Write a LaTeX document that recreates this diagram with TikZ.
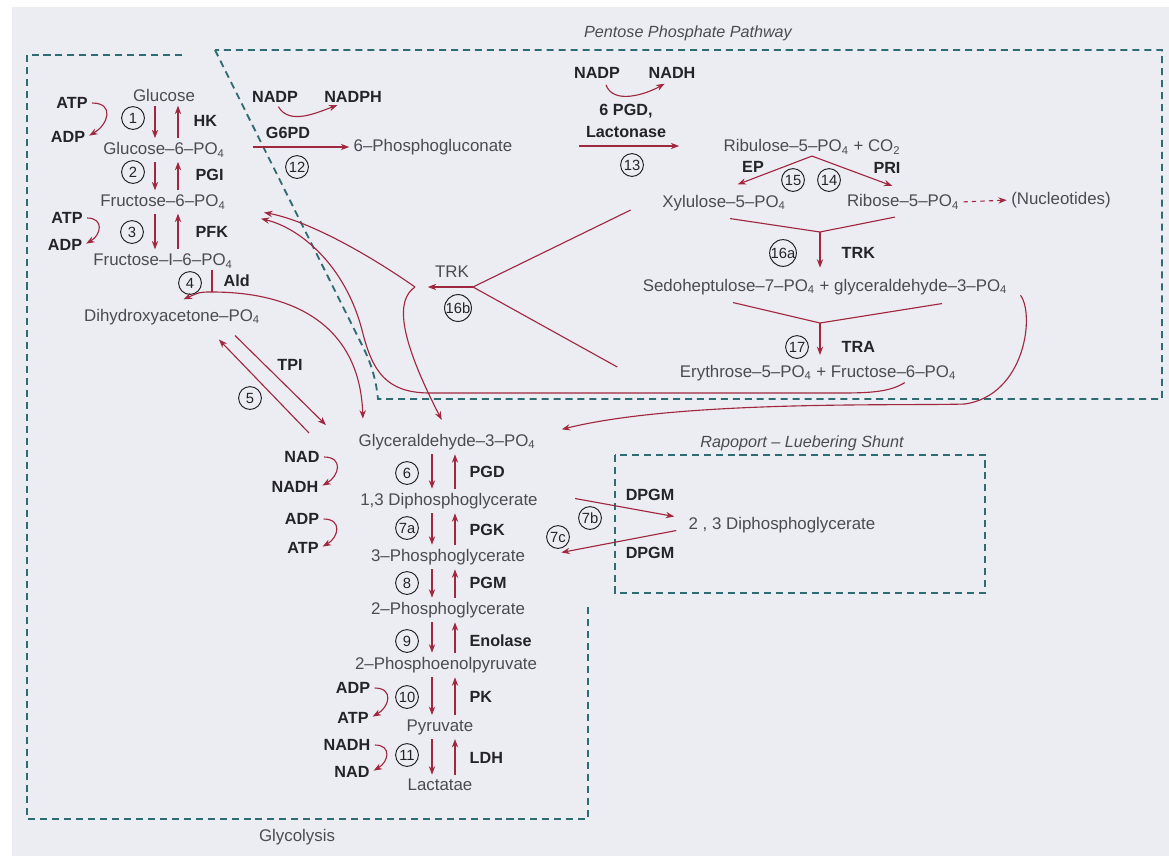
\documentclass[tikz,border=0pt]{standalone}
\usepackage{fontspec}
\setmainfont{Liberation Sans}
\usepackage{tikz}
\usetikzlibrary{arrows.meta,positioning,calc}
\definecolor{rxred}{RGB}{160,40,62}
\definecolor{zoneteal}{RGB}{45,108,115}
\definecolor{paper}{RGB}{236,236,243}
\definecolor{cpdgrey}{RGB}{75,75,80}
\definecolor{enzgrey}{RGB}{35,35,40}
\newcommand{\po}{PO\textsubscript{4}}

\begin{document}
\begin{tikzpicture}[x=0.025cm,y=-0.025cm,
  every node/.style={inner sep=1pt},
  cpd/.style={font=\fontsize{12}{14}\selectfont,text=cpdgrey},
  enz/.style={font=\fontsize{11.5}{15.5}\selectfont\bfseries,text=enzgrey},
  num/.style={circle,draw=enzgrey,line width=0.7pt,minimum size=0.57cm,inner sep=0pt,
    font=\fontsize{10.5}{11}\selectfont,text=enzgrey},
  rx/.style={draw=rxred,line width=0.8pt,-{Stealth[length=6pt,width=4.5pt]},
    shorten >=2pt,shorten <=2pt},
  ln/.style={draw=rxred,line width=0.8pt},
  zone/.style={draw=zoneteal,line width=1.3pt,dash pattern=on 5pt off 3.5pt},
  zonelbl/.style={font=\fontsize{11.5}{14}\selectfont\itshape,text=cpdgrey}]

  % Paper
  \fill[white] (0,0) rectangle (1169,856);
  \fill[paper] (12,7) rectangle (1169,856);
  \useasboundingbox (0,0) rectangle (1169,856);

  % Zones
  \draw[zone] (182,55) -- (27,55) -- (27,819) -- (588,819) -- (588,605);
  \draw[zone] (215,50) -- (362,345) .. controls (372,365) and (376,380) .. (378,399)
    -- (1162,399) -- (1162,50) -- cycle;
  \draw[zone] (615,455) rectangle (985,593);
  \node[zonelbl] (pppLbl) at (688,33) {Pentose Phosphate Pathway};
  \node[zonelbl] (rlsLbl) at (802,443) {Rapoport -- Luebering Shunt};
  \node[cpd] (glyLbl) at (297,837) {Glycolysis};

  % Glycolysis compounds
  \node[cpd] (glc) at (164,95) {Glucose};
  \node[cpd] (g6p) at (164,150) {Glucose--6--\po};
  \node[cpd] (f6p) at (163,202) {Fructose--6--\po};
  \node[cpd] (fbp) at (163,261) {Fructose--I--6--\po};
  \node[cpd] (dhap) at (172,317) {Dihydroxyacetone--\po};
  \node[cpd] (g3p) at (447,442) {Glyceraldehyde--3--\po};
  \node[cpd] (bpg) at (449,501) {1,3 Diphosphoglycerate};
  \node[cpd] (pg3) at (448,557) {3--Phosphoglycerate};
  \node[cpd] (pg2) at (448,610) {2--Phosphoglycerate};
  \node[cpd] (pep) at (446,665) {2--Phosphoenolpyruvate};
  \node[cpd] (pyr) at (440,727) {Pyruvate};
  \node[cpd] (lac) at (440,785) {Lactatae};
  \node[cpd] (dpg) at (782,525) {2 , 3 Diphosphoglycerate};

  % Pentose compounds
  \node[cpd] (pgl) at (433,147) {6--Phosphogluconate};
  \node[cpd] (rul) at (812,147) {Ribulose--5--\po{} + CO\textsubscript{2}};
  \node[cpd] (xyl) at (724,203) {Xylulose--5--\po};
  \node[cpd] (rib) at (903,202) {Ribose--5--\po};
  \node[cpd] (nuc) at (1061,200) {(Nucleotides)};
  \node[cpd] (sed) at (825,287) {Sedoheptulose--7--\po{} + glyceraldehyde--3--\po};
  \node[cpd] (ery) at (818,373) {Erythrose--5--\po{} + Fructose--6--\po};

  % Cofactors
  \node[enz] (atpA) at (72,103) {ATP};
  \node[enz] (adpA) at (68,137) {ADP};
  \node[enz] (atpB) at (67,218) {ATP};
  \node[enz] (adpB) at (65,245) {ADP};
  \node[enz] (nadA) at (302,457) {NAD};
  \node[enz] (nadhA) at (295,487) {NADH};
  \node[enz] (adpC) at (302,519) {ADP};
  \node[enz] (atpC) at (303,548) {ATP};
  \node[enz] (adpD) at (353,688) {ADP};
  \node[enz] (atpD) at (353,718) {ATP};
  \node[enz] (nadhB) at (347,745) {NADH};
  \node[enz] (nadB) at (352,772) {NAD};
  \node[enz] (nadpA) at (275,97) {NADP};
  \node[enz] (nadphA) at (353,97) {NADPH};
  \node[enz] (nadpB) at (597,73) {NADP};
  \node[enz] (nadhC) at (672,73) {NADH};

  % Enzymes
  \node[enz,anchor=west] (hk) at (192,121) {HK};
  \node[enz,anchor=west] (pgi) at (194,175) {PGI};
  \node[enz,anchor=west] (pfk) at (194,232) {PFK};
  \node[enz,anchor=west] (ald) at (222,281) {Ald};
  \node[enz] (tpi) at (290,365) {TPI};
  \node[enz,anchor=west] (pgd) at (468,472) {PGD};
  \node[enz,anchor=west] (pgk) at (468,530) {PGK};
  \node[enz,anchor=west] (pgm) at (468,583) {PGM};
  \node[enz,anchor=west] (eno) at (468,641) {Enolase};
  \node[enz,anchor=west] (pk) at (468,697) {PK};
  \node[enz,anchor=west] (ldh) at (468,758) {LDH};
  \node[enz] (dpgmA) at (650,495) {DPGM};
  \node[enz] (dpgmB) at (650,553) {DPGM};
  \node[enz] (g6pd) at (288,133) {G6PD};
  \node[enz,align=center] (pgdl) at (626,121) {6 PGD,\\Lactonase};
  \node[enz] (ep) at (753,167) {EP};
  \node[enz] (pri) at (887,168) {PRI};
  \node[enz,anchor=west] (trkA) at (840,253) {TRK};
  \node[enz,anchor=west] (tra) at (840,347) {TRA};
  \node[cpd] (trkB) at (452,272) {TRK};

  % Step numbers
  \node[num] (n1) at (133,118) {1};
  \node[num] (n2) at (133,172) {2};
  \node[num] (n3) at (132,232) {3};
  \node[num] (n4) at (190,283) {4};
  \node[num] (n5) at (250,398) {5};
  \node[num] (n6) at (407,473) {6};
  \node[num] (n7a) at (407,528) {7a};
  \node[num] (n7b) at (590,518) {7b};
  \node[num] (n7c) at (558,537) {7c};
  \node[num] (n8) at (407,583) {8};
  \node[num] (n9) at (407,641) {9};
  \node[num] (n10) at (407,697) {10};
  \node[num] (n11) at (407,755) {11};
  \node[num] (n12) at (297,167) {12};
  \node[num] (n13) at (632,165) {13};
  \node[num] (n14) at (829,180) {14};
  \node[num] (n15) at (793,180) {15};
  \node[num] (n16a) at (783,253) {16a};
  \node[num] (n16b) at (458,308) {16b};
  \node[num] (n17) at (797,347) {17};

  % Junctions
  \coordinate (dnA) at (155,0);
  \coordinate (upA) at (178,0);
  \coordinate (dnB) at (432,0);
  \coordinate (upB) at (455,0);
  \coordinate (aldj) at (212,292);
  \coordinate (trkj) at (473,287);
  \coordinate (trkt) at (425,287);
  \coordinate (cusp) at (415,287);
  \coordinate (j16a) at (820,232);
  \coordinate (j17) at (820,323);

  % Glycolysis steps
  \foreach \a/\b in {glc/g6p,g6p/f6p,f6p/fbp} {
    \draw[rx] (\a.south -| dnA) -- (\b.north -| dnA);
    \draw[rx] (\b.north -| upA) -- (\a.south -| upA);
  }
  \foreach \a/\b in {g3p/bpg,bpg/pg3,pg3/pg2,pg2/pep,pep/pyr,pyr/lac} {
    \draw[rx] (\a.south -| dnB) -- (\b.north -| dnB);
    \draw[rx] (\b.north -| upB) -- (\a.south -| upB);
  }
  \foreach \a/\b in {atpA/adpA,atpB/adpB,nadA/nadhA,adpC/atpC,adpD/atpD,nadhB/nadB}
    \draw[rx] (\a.east) to[out=0,in=30,looseness=1.9] (\b.east);

  % Aldolase split
  \draw[ln] (fbp.south -| aldj) -- (aldj);
  \draw[rx,shorten <=0pt] (aldj) .. controls (200,292) .. ($(dhap.north)+(9,-7)$);
  \draw[rx,shorten <=0pt] (aldj) .. controls (300,292) and (360,330) .. ($(g3p.north)+(-84,-11)$);

  % TPI
  \draw[rx] ($(g3p.west)+(-46,-7)$) -- ($(dhap.south)+(45,11)$);
  \draw[rx] ($(dhap.south)+(61,7)$) -- ($(g3p.west)+(-29,-15)$);

  % Oxidative branch
  \draw[rx] ($(nadpA.south)+(2,0)$) to[out=-60,in=200] ($(nadphA.south)+(-13,0)$);
  \draw[rx] ($(g6p.east)+(24,-3)$) -- (pgl.west);
  \draw[rx] ($(nadpB.south)+(8,2)$) to[out=-70,in=210] ($(nadhC.south)+(-5,2)$);
  \draw[rx] ($(pgl.east)+(62,-1)$) -- ($(rul.west)+(-40,-1)$);

  % Non-oxidative branch
  \draw[rx,shorten <=0pt] (rul.south) -- ($(xyl.north)+(11,-8)$);
  \draw[rx,shorten <=0pt] (rul.south) -- ($(rib.north)+(-8,-6)$);
  \draw[rx,dashed] (rib.east) -- (nuc.west);
  \draw[ln] ($(xyl.south)+(6,6)$) -- (j16a) -- ($(rib.south)+(-8,6)$);
  \draw[rx,shorten <=0pt,shorten >=7pt] (j16a) -- (sed.north -| j16a);
  \draw[ln] ($(sed.south)+(-92,6)$) -- (j17) -- ($(sed.south)+(117,7)$);
  \draw[rx,shorten <=0pt,shorten >=6pt] (j17) -- (ery.north -| j17);

  % Transketolase back to glycolysis
  \draw[ln] ($(xyl.west)+(-30,7)$) -- (trkj) -- ($(ery.west)+(-61,-6)$);
  \draw[rx,shorten <=0pt] (trkj) -- (trkt);
  \draw[rx,shorten <=0pt] (cusp) .. controls (362,250) and (305,220) .. ($(f6p.east)+(34,10)$);
  \draw[rx,shorten <=0pt] (cusp) .. controls (396,300) and (398,335) .. ($(g3p.north)+(-4,-10)$);
  \draw[rx,shorten <=0pt] ($(ery.south east)+(-53,0)$) .. controls (890,392) and (870,393) .. (840,393)
    -- (430,393) .. controls (385,393) and (372,370) .. (362,330)
    .. controls (345,265) and (300,228) .. ($(f6p.east)+(31,16)$);
  \draw[rx] ($(sed.east)+(10,6)$) .. controls (1035,315) and (1025,395) .. (965,404)
    .. controls (900,406) and (680,400) .. ($(g3p.east)+(22,-12)$);

  % Rapoport-Luebering shunt
  \draw[rx] ($(bpg.east)+(33,-3)$) -- ($(dpg.west)+(-10,-8)$);
  \draw[rx] ($(dpg.west)+(-8,5)$) -- ($(pg3.east)+(32,-4)$);
\end{tikzpicture}
\end{document}
